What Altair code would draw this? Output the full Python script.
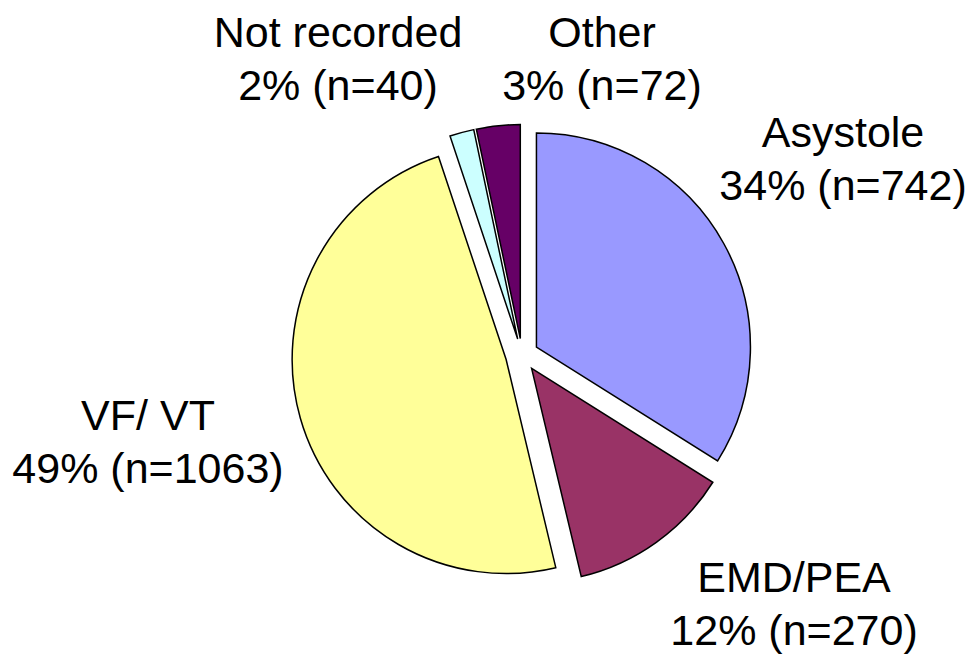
import math
import altair as alt
import pandas as pd

# ---- data ----
categories = ["Asystole", "EMD/PEA", "VF/ VT", "Not recorded", "Other"]
counts = [742, 270, 1063, 40, 72]
colors = ["#9999FF", "#993366", "#FFFF99", "#CCFFFF", "#660066"]

total = sum(counts)
pct_labels = [f"{round(100 * c / total)}%" for c in counts]

# ---- layout (plot-area pixels) ----
CX, CY = 514, 347          # pie centre
RADIUS = 214
EXPLODE = 16.5             # radial offset of every slice
label_x = [835, 786, 140, 330, 594]
label_y = [139, 584, 422, 39, 39]   # baseline of first line

df = pd.DataFrame({
    "cat": categories,
    "n": counts,
    "order": list(range(len(categories))),
    "label": [f"{c}\n{p} (n={n})" for c, p, n in zip(categories, pct_labels, counts)],
    "lx": label_x,
    "ly": label_y,
})

base = alt.Chart(df).transform_window(
    cum="sum(n)", sort=[alt.SortField("order")], frame=[None, 0]
).transform_calculate(
    start="datum.cum - datum.n",
    mid=f"(datum.cum - datum.n / 2) / {total} * 2 * PI",
    ex=f"{CX} + {EXPLODE} * sin(datum.mid)",
    ey=f"{CY} - {EXPLODE} * cos(datum.mid)",
)

arcs = base.mark_arc(radius=RADIUS, stroke="black", strokeWidth=1.5).encode(
    theta=alt.Theta("start:Q", scale=alt.Scale(domain=[0, total], range=[0, 2 * math.pi])),
    theta2="cum:Q",
    x=alt.X("ex:Q", scale=None, axis=None),
    y=alt.Y("ey:Q", scale=None, axis=None),
    color=alt.Color("cat:N", scale=alt.Scale(domain=categories, range=colors), legend=None),
)

text = alt.Chart(df).mark_text(
    lineBreak="\n", fontSize=43, font="Liberation Sans", align="center",
    baseline="alphabetic", lineHeight=53, color="black",
).encode(
    x=alt.X("lx:Q", scale=None, axis=None),
    y=alt.Y("ly:Q", scale=None, axis=None),
    text="label:N",
)

chart = alt.layer(arcs, text).properties(
    width=958, height=646, padding=0, autosize="none"
).configure_view(stroke=None)

chart.save("out.html", embed_options={"renderer": "svg", "actions": False})
